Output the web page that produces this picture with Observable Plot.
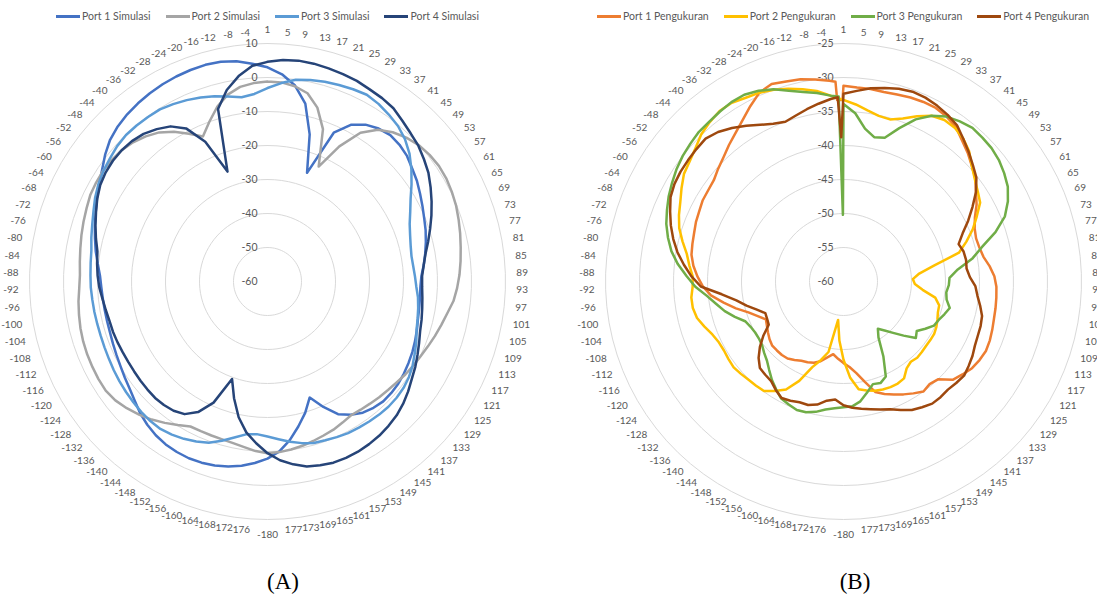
<!DOCTYPE html>
<html>
<head>
<meta charset="utf-8">
<script src="https://cdn.jsdelivr.net/npm/d3@7"></script>
<script src="https://cdn.jsdelivr.net/npm/@observablehq/plot@0.6"></script>
<style>
  html, body { margin: 0; padding: 0; background: #fff; }
  body { width: 1097px; height: 599px; overflow: hidden; position: relative; font-family: Lato, "Open Sans", sans-serif; }
  .legend { position: absolute; top: 8px; height: 16px; display: flex; justify-content: center; align-items: center; gap: 15px; font-size: 10.5px; color: #595959; white-space: nowrap; }
  .legend .item { display: flex; align-items: center; gap: 2px; }
  .legend .sw { display: inline-block; width: 24px; height: 3px; }
  .chart { position: absolute; top: 22px; }
  .cap { position: absolute; top: 569px; font-family: "Liberation Serif", "DejaVu Serif", serif; font-size: 23px; line-height: 26px; text-align: center; color: #000; }
</style>
</head>
<body>
<div id="legA" class="legend" style="left:0px;width:535px"></div>
<div id="legB" class="legend" style="left:573px;width:540px"></div>
<div id="chartA" class="chart" style="left:0px"></div>
<div id="chartB" class="chart" style="left:560px"></div>
<div class="cap" style="left:183px;width:200px">(A)</div>
<div class="cap" style="left:755px;width:200px">(B)</div>
<script>
// ---------- category (angle) labels, clockwise from top, one every 4 degrees ----------
const categoryLabels = ["1","5","9","13","17","21","25","29","33","37","41","45","49","53","57","61","65","69","73","77","81","85","89","93","97","101","105","109","113","117","121","125","129","133","137","141","145","149","153","157","161","165","169","173","177","-180","176","172","-168","-164","-160","-156","-152","-148","-144","-140","-136","-132","-128","-124","-120","-116","-112","-108","-104","-100","-96","-92","-88","-84","-80","-76","-72","-68","-64","-60","-56","-52","-48","-44","-40","-36","-32","-28","-24","-20","-16","-12","-8","-4"];

// ---------- radial axis rings ----------
const ringsSim = [10, 0, -10, -20, -30, -40, -50, -60];
const ringsMea = [-25, -30, -35, -40, -45, -50, -55, -60];

// ---------- series names / colours ----------
const namesSim = ["Port 1 Simulasi", "Port 2 Simulasi", "Port 3 Simulasi", "Port 4 Simulasi"];
const colorsSim = ["#4472C4", "#A5A5A5", "#5B9BD5", "#264478"];
const namesMea = ["Port 1 Pengukuran", "Port 2 Pengukuran", "Port 3 Pengukuran", "Port 4 Pengukuran"];
const colorsMea = ["#ED7D31", "#FFC000", "#70AD47", "#9E480E"];

// ---------- (A) simulated patterns, dB, at 0,4,8,...,356 degrees ----------
const port1Sim = [3.0, 1.1, -1.8, -6.5, -15.0, -26.0, -12.1, -7.8, -5.6, -4.4,
  -3.8, -4.1, -4.8, -6.0, -7.0, -8.2, -9.3, -10.3, -11.1, -12.0,
  -12.9, -13.8, -14.7, -15.0, -14.9, -14.7, -14.4, -13.8, -13.2, -12.6,
  -12.1, -11.6, -11.2, -11.0, -11.0, -11.5, -12.3, -13.8, -15.8, -19.6,
  -23.7, -19.8, -16.4, -12.9, -9.9, -7.9, -6.5, -5.3, -4.4, -3.7,
  -3.3, -3.1, -3.2, -3.5, -4.1, -5.0, -6.1, -7.5, -8.6, -9.4,
  -10.1, -10.6, -11.0, -11.3, -11.4, -11.4, -11.3, -11.1, -10.7, -9.8,
  -8.7, -7.7, -6.6, -5.5, -4.2, -2.8, -1.3, 0.6, 2.3, 3.4,
  4.2, 4.8, 5.3, 5.7, 6.0, 6.2, 6.3, 6.1, 5.4, 4.2];
const port2Sim = [-1.2, -1.3, -2.0, -3.4, -6.8, -12.3, -23.0, -15.0, -8.4, -4.8,
  -2.7, -1.2, -0.1, 0.5, 0.8, 0.7, 0.3, -0.2, -0.9, -1.6,
  -2.3, -2.9, -3.5, -4.2, -5.0, -6.3, -7.3, -8.2, -9.1, -9.9,
  -10.5, -11.1, -11.8, -12.3, -12.7, -13.1, -13.4, -13.6, -13.0, -12.3,
  -11.8, -11.2, -10.6, -10.1, -9.7, -9.5, -10.0, -10.8, -11.4, -11.7,
  -11.8, -11.8, -11.7, -10.2, -8.6, -7.0, -5.6, -4.3, -3.2, -2.6,
  -2.6, -2.7, -2.8, -3.0, -3.3, -3.7, -4.1, -4.6, -4.8, -4.5,
  -4.1, -3.6, -3.1, -2.6, -2.0, -1.8, -1.7, -1.9, -2.3, -3.1,
  -4.3, -5.8, -8.1, -10.8, -13.3, -10.0, -6.5, -3.8, -2.2, -1.5];
const port3Sim = [-3.1, -1.5, -0.1, 0.6, 1.1, 1.5, 1.9, 2.2, 1.6, 0.7,
  -0.3, -1.8, -3.8, -6.3, -8.9, -11.4, -13.3, -14.9, -15.9, -16.6,
  -17.0, -16.9, -16.6, -16.2, -15.5, -15.0, -14.5, -13.9, -12.8, -11.8,
  -10.7, -9.8, -9.2, -8.9, -8.8, -8.9, -9.1, -9.3, -9.5, -9.9,
  -10.3, -10.6, -11.4, -12.4, -13.5, -14.4, -15.0, -14.6, -13.1, -11.3,
  -9.5, -8.5, -7.6, -6.9, -6.4, -6.4, -6.6, -6.9, -7.2, -7.5,
  -7.8, -8.1, -8.3, -8.4, -8.4, -8.3, -8.2, -8.0, -7.9, -7.7,
  -7.4, -6.6, -5.8, -4.8, -3.6, -2.6, -1.8, -1.2, -0.5, -0.1,
  -0.1, -0.2, -0.3, -0.9, -1.6, -2.4, -3.3, -4.4, -5.3, -4.7];
const port4Sim = [4.6, 5.3, 5.6, 5.5, 5.2, 4.9, 4.6, 4.0, 3.6, 3.0,
  1.7, 0.6, -0.3, -1.6, -2.9, -4.6, -6.3, -8.0, -9.7, -11.3,
  -12.8, -13.8, -14.5, -14.5, -14.2, -13.8, -13.3, -12.8, -11.9, -10.9,
  -9.8, -8.8, -7.5, -6.3, -5.3, -4.6, -4.0, -3.6, -3.3, -3.2,
  -3.3, -3.8, -4.4, -5.7, -7.3, -9.5, -12.3, -15.2, -19.2, -24.3,
  -29.5, -21.0, -16.5, -14.0, -13.0, -12.6, -12.4, -12.5, -12.6, -12.7,
  -12.7, -12.6, -12.4, -12.2, -12.1, -11.7, -11.2, -10.5, -10.0, -9.6,
  -9.2, -8.0, -6.8, -5.6, -4.3, -3.2, -2.6, -2.3, -2.3, -2.6,
  -3.3, -4.6, -6.2, -9.0, -15.0, -25.6, -7.2, -2.4, 1.0, 3.6];

// ---------- (B) measured patterns, dB, at 0,4,8,...,356 degrees ----------
const port1Mea = [-31.2, -31.4, -31.4, -31.5, -31.4, -31.2, -31.1, -31.1, -31.4, -31.9,
  -32.9, -33.7, -34.6, -35.4, -36.5, -37.4, -38.5, -39.2, -39.5, -39.4,
  -39.1, -38.4, -37.8, -37.5, -37.4, -37.3, -37.2, -37.0, -36.8, -36.7,
  -36.9, -37.2, -37.8, -38.4, -40.0, -40.3, -40.0, -40.6, -41.2, -41.8,
  -42.4, -43.1, -44.9, -46.4, -47.4, -48.0, -48.6, -49.2, -48.6, -47.8,
  -47.3, -47.0, -46.8, -46.4, -46.0, -45.9, -45.9, -45.9, -46.2, -46.6,
  -47.0, -47.3, -46.4, -45.3, -43.7, -42.1, -40.4, -39.3, -38.5, -37.8,
  -37.3, -37.1, -36.9, -36.6, -36.4, -36.1, -36.0, -35.8, -35.2, -34.6,
  -33.8, -33.0, -32.0, -30.8, -29.6, -29.1, -29.4, -29.6, -30.0, -30.4];
const port1MeaNotch = [[357.7, -30.6], [358.0, -33.3], [359.7, -33.3]];
const port2Mea = [-33.3, -33.9, -34.6, -35.1, -35.2, -34.5, -33.4, -32.4, -32.0, -32.1,
  -32.6, -33.4, -34.6, -35.5, -36.2, -36.8, -38.2, -39.5, -41.0, -42.5,
  -46.5, -48.8, -49.8, -49.5, -48.3, -46.3, -45.5, -45.4, -45.1, -44.8,
  -44.6, -44.6, -44.6, -44.5, -44.4, -44.6, -44.2, -43.2, -43.0, -43.0,
  -43.1, -43.3, -43.6, -44.0, -45.8, -48.5, -51.3, -54.3, -49.4, -48.0,
  -46.6, -44.0, -42.0, -41.0, -40.1, -40.0, -39.9, -39.7, -39.5, -39.6,
  -39.7, -39.6, -39.2, -38.5, -37.8, -37.5, -37.5, -37.8, -37.8, -37.2,
  -36.6, -35.6, -34.6, -33.9, -33.3, -32.5, -31.7, -31.3, -30.7, -29.9,
  -29.4, -29.0, -29.0, -29.4, -29.6, -30.0, -30.5, -31.1, -31.7, -32.6];
const port3Mea = [-33.9, -35.2, -37.3, -38.3, -38.0, -36.0, -33.9, -32.4, -31.4, -30.9,
  -30.5, -30.6, -30.7, -31.0, -31.5, -32.1, -33.1, -34.4, -36.5, -39.0,
  -40.8, -43.1, -44.4, -44.5, -44.8, -44.6, -43.9, -44.4, -44.9, -45.2,
  -46.1, -47.0, -46.5, -48.1, -49.5, -50.6, -51.4, -50.3, -47.5, -44.7,
  -44.1, -44.3, -43.3, -42.2, -41.6, -41.5, -41.3, -41.0, -40.4, -40.0,
  -39.9, -40.2, -40.5, -41.3, -42.1, -43.0, -43.8, -44.3, -44.8, -45.0,
  -45.0, -44.8, -44.4, -43.2, -42.0, -41.0, -39.8, -38.2, -36.9, -35.5,
  -34.3, -33.4, -32.6, -32.0, -31.4, -30.9, -30.4, -30.0, -29.7, -29.4,
  -29.3, -29.1, -28.9, -28.9, -29.3, -29.9, -30.8, -31.5, -32.0, -32.6];
const port3MeaNotch = [[358.5, -32.8], [359.5, -50.2]];
const port4Mea = [-32.4, -31.9, -31.3, -30.9, -30.5, -30.3, -30.4, -30.7, -31.1, -31.6,
  -32.6, -33.5, -34.4, -35.2, -36.5, -38.1, -39.6, -41.1, -42.2, -41.8,
  -41.7, -41.8, -41.4, -40.6, -40.2, -39.6, -39.0, -38.8, -38.7, -38.5,
  -38.1, -37.8, -37.5, -37.7, -37.9, -37.8, -37.8, -38.2, -38.6, -39.3,
  -40.0, -40.4, -40.8, -41.1, -41.4, -41.8, -42.6, -42.3, -41.5, -41.1,
  -41.1, -40.8, -40.6, -41.2, -41.9, -42.1, -42.3, -43.2, -44.4, -45.8,
  -47.3, -47.5, -47.6, -46.6, -45.3, -44.0, -42.0, -39.0, -37.6, -36.4,
  -35.2, -34.2, -33.3, -32.5, -31.7, -31.3, -31.1, -31.0, -30.9, -30.8,
  -31.3, -32.1, -33.0, -33.9, -34.6, -35.0, -34.6, -34.1, -33.6, -33.1];
const port4MeaNotch = [[358.2, -32.9], [359.1, -38.8]];

const STEP = 4;
const TEXT = "#595959";

function legend(el, names, colors) {
  const root = document.getElementById(el);
  names.forEach((n, i) => {
    const it = document.createElement("div");
    it.className = "item";
    const sw = document.createElement("span");
    sw.className = "sw";
    sw.style.background = colors[i];
    const tx = document.createElement("span");
    tx.textContent = n;
    it.appendChild(sw); it.appendChild(tx);
    root.appendChild(it);
  });
}

function radarChart({series, rings, vmin, vmax, width, height, cx, cy, R, labelR}) {
  const norm = v => (v - vmin) / (vmax - vmin);
  const toXY = (a, r) => ({x: r * Math.sin(a * Math.PI / 180), y: r * Math.cos(a * Math.PI / 180)});
  const gridPts = rings.filter(v => v !== vmin)
    .flatMap(v => d3.range(0, categoryLabels.length + 1).map(i => ({ring: v, ...toXY(i * STEP, norm(v))})));
  const labelPts = categoryLabels.map((t, k) => ({t, a: k * STEP, ...toXY(k * STEP, labelR / R)}));
  const lineMarks = series.map(s => {
    const pts = s.values.map((v, k) => ({a: k * STEP, v}))
      .concat((s.notch || []).map(([a, v]) => ({a, v})));
    pts.sort((p, q) => p.a - q.a);
    pts.push(pts[0]);
    const data = pts.map(p => toXY(p.a, norm(p.v)));
    return Plot.line(data, {x: "x", y: "y", stroke: s.color, strokeWidth: 2.5, strokeLinejoin: "round", strokeLinecap: "round"});
  });
  const lab = {x: "x", y: "y", text: "t", fill: TEXT};
  return Plot.plot({
    width, height, margin: 0,
    x: {domain: [-1, 1], range: [cx - R, cx + R], axis: null},
    y: {domain: [-1, 1], range: [cy + R, cy - R], axis: null},
    style: {fontFamily: "Lato, 'Open Sans', sans-serif", fontSize: "10px", background: "transparent"},
    marks: [
      Plot.line(gridPts, {x: "x", y: "y", z: "ring", stroke: "#d9d9d9", strokeWidth: 1}),
      Plot.text(rings, {x: () => 0, y: v => norm(v), text: v => String(v), textAnchor: "end", dx: -10, fill: TEXT, fontSize: 10.5}),
      Plot.text(labelPts.filter(d => d.a === 0), {...lab, lineAnchor: "bottom"}),
      Plot.text(labelPts.filter(d => d.a === 180), {...lab, lineAnchor: "top"}),
      Plot.text(labelPts.filter(d => d.a > 0 && d.a < 180), {...lab, textAnchor: "start"}),
      Plot.text(labelPts.filter(d => d.a > 180), {...lab, textAnchor: "end"}),
      ...lineMarks
    ]
  });
}

legend("legA", namesSim, colorsSim);
legend("legB", namesMea, colorsMea);

const simSeries = [port1Sim, port2Sim, port3Sim, port4Sim].map((values, i) => ({values, color: colorsSim[i]}));
const meaSeries = [
  {values: port1Mea, notch: port1MeaNotch},
  {values: port2Mea},
  {values: port3Mea, notch: port3MeaNotch},
  {values: port4Mea, notch: port4MeaNotch}
].map((s, i) => ({...s, color: colorsMea[i]}));

document.getElementById("chartA").appendChild(radarChart({
  series: simSeries, rings: ringsSim, vmin: -60, vmax: 10,
  width: 560, height: 530, cx: 267, cy: 259, R: 238, labelR: 249
}));
document.getElementById("chartB").appendChild(radarChart({
  series: meaSeries, rings: ringsMea, vmin: -60, vmax: -25,
  width: 537, height: 530, cx: 283, cy: 259, R: 238, labelR: 249
}));
</script>
</body>
</html>
